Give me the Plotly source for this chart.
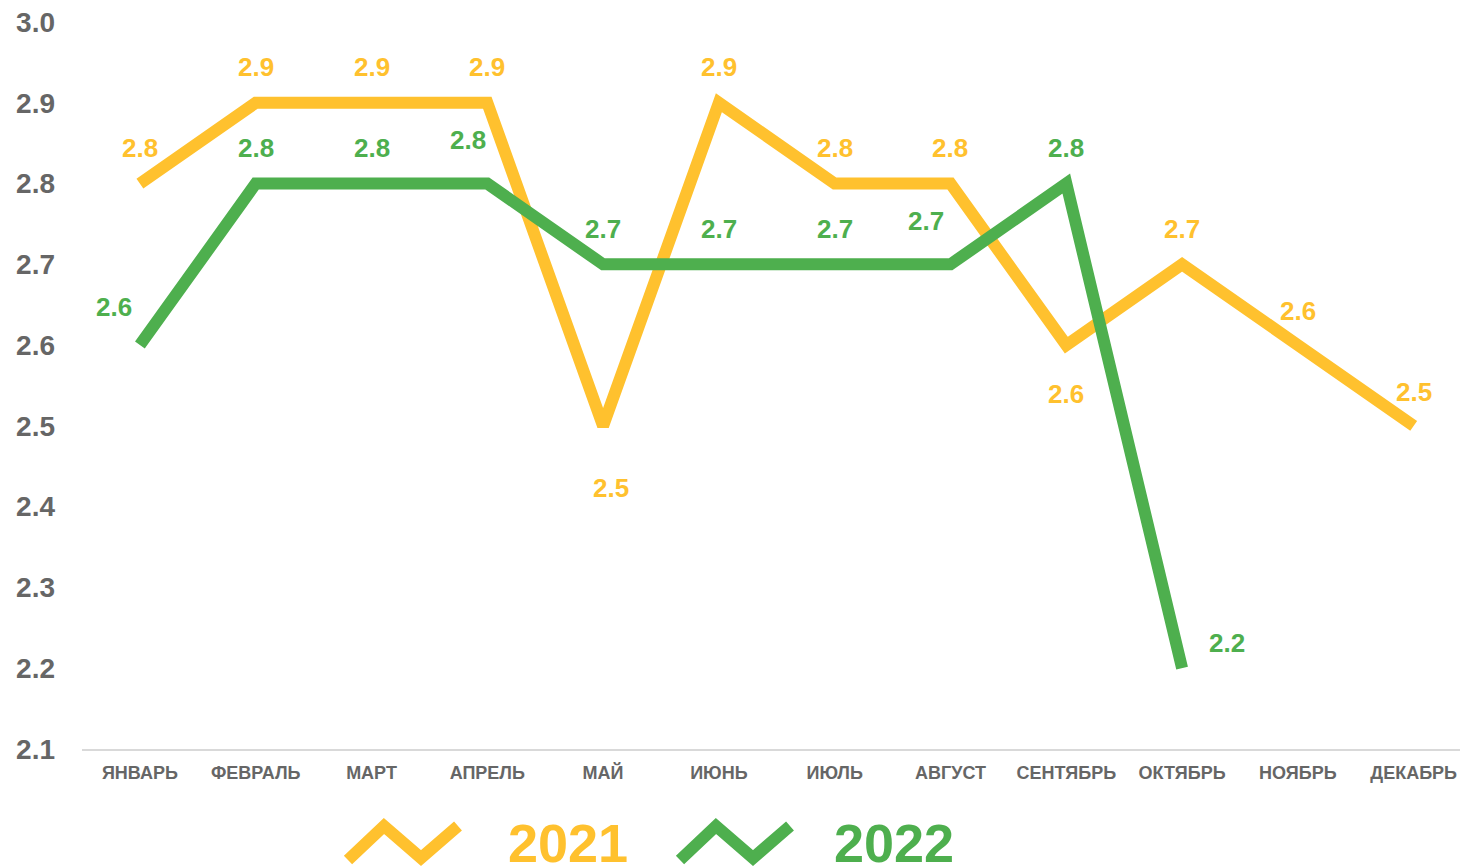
import plotly.graph_objects as go

months = ["ЯНВАРЬ", "ФЕВРАЛЬ", "МАРТ", "АПРЕЛЬ", "МАЙ", "ИЮНЬ", "ИЮЛЬ",
          "АВГУСТ", "СЕНТЯБРЬ", "ОКТЯБРЬ", "НОЯБРЬ", "ДЕКАБРЬ"]
values_2021 = [2.8, 2.9, 2.9, 2.9, 2.5, 2.9, 2.8, 2.8, 2.6, 2.7, 2.6, 2.5]
values_2022 = [2.6, 2.8, 2.8, 2.8, 2.7, 2.7, 2.7, 2.7, 2.8, 2.2, None, None]
y_ticks = [2.1, 2.2, 2.3, 2.4, 2.5, 2.6, 2.7, 2.8, 2.9, 3.0]

YELLOW = "#FFC12E"
GREEN = "#4EAF4E"
GREY = "#666666"
FONT = "Liberation Sans, Arial, sans-serif"

# label offsets (pixels) per point
off_2021 = [(0, 36), (0, 36), (0, 36), (0, 36), (8, -62), (0, 36), (0, 36),
            (0, 36), (0, -49), (0, 35), (0, 34), (0, 34)]
off_2022 = [(-26, 38), (0, 36), (0, 36), (-19, 44), (0, 35), (0, 35), (0, 35),
            (-24, 43), (0, 36), (45, 25), None, None]

W, H = 1460, 867
ML, MR, MT, MB = 82, 0, 22, 118
PW, PH = W - ML - MR, H - MT - MB


def px(x):
    return (x - ML) / PW


def py(y):
    return (H - MB - y) / PH


fig = go.Figure()
fig.add_trace(go.Scatter(x=list(range(12)), y=values_2021, mode="lines",
                         line=dict(color=YELLOW, width=12), name="2021",
                         hoverinfo="skip"))
fig.add_trace(go.Scatter(x=list(range(12)), y=values_2022, mode="lines",
                         line=dict(color=GREEN, width=12), name="2022",
                         hoverinfo="skip"))

annotations = []
for vals, offs, col in [(values_2021, off_2021, YELLOW), (values_2022, off_2022, GREEN)]:
    for i, v in enumerate(vals):
        if v is None:
            continue
        dx, dy = offs[i]
        annotations.append(dict(x=i, y=v, xref="x", yref="y", text=f"<b>{v:.1f}</b>",
                                showarrow=False, xshift=dx, yshift=dy,
                                xanchor="center", yanchor="middle",
                                font=dict(family=FONT, size=26, color=col)))

# legend texts
annotations.append(dict(x=px(568), y=py(843), xref="paper", yref="paper", text="<b>2021</b>",
                        showarrow=False, xanchor="center", yanchor="middle",
                        font=dict(family=FONT, size=54, color=YELLOW)))
annotations.append(dict(x=px(894), y=py(843), xref="paper", yref="paper", text="<b>2022</b>",
                        showarrow=False, xanchor="center", yanchor="middle",
                        font=dict(family=FONT, size=54, color=GREEN)))


def zig(x0, col):
    pts = [(x0, 860), (x0 + 36, 826), (x0 + 73, 858), (x0 + 110, 826)]
    path = "M " + " L ".join(f"{px(a):.5f},{py(b):.5f}" for a, b in pts)
    return dict(type="path", path=path, xref="paper", yref="paper",
                line=dict(color=col, width=12))


shapes = [zig(348, YELLOW), zig(680, GREEN)]

fig.update_layout(
    width=W, height=H,
    margin=dict(l=ML, r=MR, t=MT, b=MB),
    paper_bgcolor="white", plot_bgcolor="white",
    showlegend=False,
    annotations=annotations,
    shapes=shapes,
    font=dict(family=FONT),
    xaxis=dict(range=[-0.5, 11.4], tickmode="array", tickvals=list(range(12)),
               ticktext=[f"<b>{m}</b>" for m in months],
               tickfont=dict(family=FONT, size=18, color=GREY),
               showgrid=False, zeroline=False, showline=True,
               linecolor="#D9D9D9", linewidth=2, ticks="", ticklabelstandoff=6),
    yaxis=dict(range=[2.1, 3.0], tickmode="array", tickvals=y_ticks,
               ticktext=[f"<b>{t:.1f}</b>" for t in y_ticks],
               tickfont=dict(family=FONT, size=28, color=GREY),
               showgrid=False, zeroline=False, showline=False, ticks="",
               ticklabelstandoff=26),
)

fig.write_html("out.html", config={"displayModeBar": False})
